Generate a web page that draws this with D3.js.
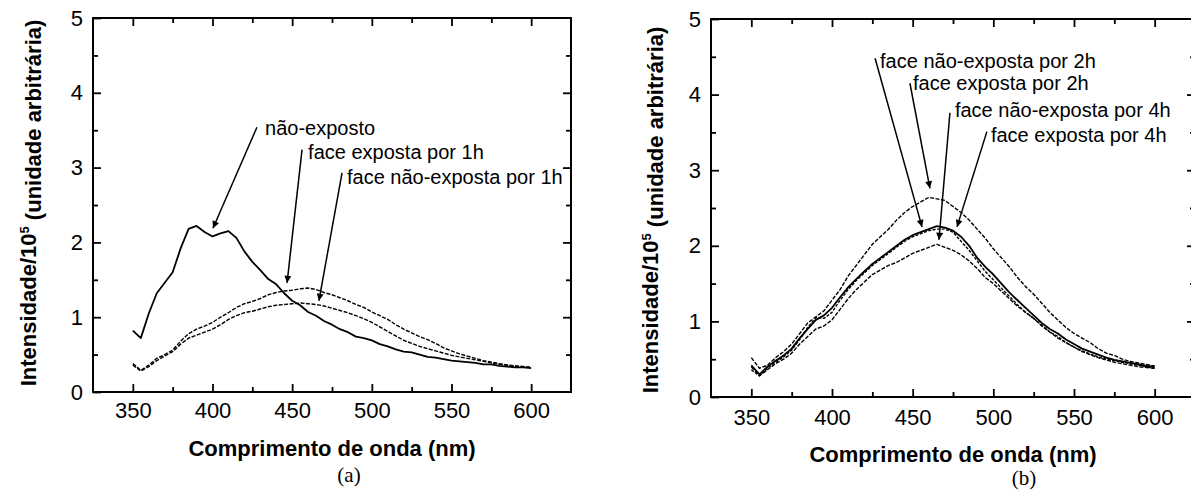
<!DOCTYPE html>
<html>
<head>
<meta charset="utf-8">
<script src="https://cdn.jsdelivr.net/npm/d3@7"></script>
<style>
  body { margin: 0; background: #fff; }
  svg { display: block; }
  text { font-family: "Liberation Sans", Arial, sans-serif; fill: #000; }
</style>
</head>
<body>
<div class="svg"></div>
<script>
// wavelengths (nm), shared by every curve
var wl = [350, 355, 360, 365, 370, 375, 380, 385, 390, 395, 400, 405, 410, 415, 420, 425, 430, 435, 440, 445,
          450, 455, 460, 465, 470, 475, 480, 485, 490, 495, 500, 505, 510, 515, 520, 525, 530, 535, 540, 545,
          550, 555, 560, 565, 570, 575, 580, 585, 590, 595, 600];

// panel (a)
var naoExposto = [0.82, 0.72, 1.05, 1.32, 1.46, 1.60, 1.92, 2.18, 2.22, 2.14, 2.08, 2.12, 2.15, 2.06, 1.88, 1.74, 1.63, 1.51, 1.44, 1.32,
                  1.22, 1.16, 1.07, 1.02, 0.95, 0.90, 0.84, 0.80, 0.74, 0.72, 0.69, 0.64, 0.61, 0.57, 0.54, 0.53, 0.50, 0.47, 0.46, 0.44,
                  0.42, 0.41, 0.40, 0.39, 0.37, 0.37, 0.35, 0.34, 0.33, 0.33, 0.32];
var exposta1h = [0.38, 0.29, 0.36, 0.45, 0.50, 0.56, 0.68, 0.78, 0.84, 0.88, 0.93, 1.00, 1.06, 1.13, 1.18, 1.21, 1.25, 1.30, 1.33, 1.35,
                 1.36, 1.38, 1.39, 1.37, 1.33, 1.30, 1.26, 1.22, 1.17, 1.13, 1.07, 1.02, 0.97, 0.90, 0.84, 0.79, 0.74, 0.70, 0.65, 0.59,
                 0.55, 0.51, 0.48, 0.45, 0.42, 0.40, 0.38, 0.36, 0.35, 0.34, 0.33];
var naoExposta1h = [0.36, 0.28, 0.34, 0.42, 0.48, 0.54, 0.64, 0.72, 0.76, 0.80, 0.84, 0.90, 0.97, 1.02, 1.06, 1.08, 1.11, 1.14, 1.16, 1.17,
                    1.18, 1.19, 1.18, 1.17, 1.15, 1.12, 1.09, 1.06, 1.02, 0.98, 0.93, 0.87, 0.81, 0.75, 0.69, 0.65, 0.61, 0.58, 0.55, 0.52,
                    0.49, 0.47, 0.45, 0.43, 0.41, 0.39, 0.37, 0.36, 0.34, 0.33, 0.33];

// panel (b)
var exposta2h = [0.52, 0.38, 0.42, 0.52, 0.60, 0.70, 0.84, 0.98, 1.06, 1.14, 1.28, 1.42, 1.60, 1.74, 1.88, 2.02, 2.12, 2.22, 2.34, 2.44,
                 2.52, 2.58, 2.64, 2.62, 2.60, 2.52, 2.44, 2.34, 2.22, 2.10, 1.96, 1.84, 1.72, 1.58, 1.46, 1.36, 1.24, 1.12, 1.02, 0.92,
                 0.84, 0.78, 0.72, 0.64, 0.58, 0.55, 0.50, 0.47, 0.45, 0.43, 0.41];
var naoExposta2h = [0.42, 0.30, 0.40, 0.48, 0.55, 0.64, 0.78, 0.90, 1.02, 1.08, 1.18, 1.32, 1.45, 1.56, 1.66, 1.76, 1.84, 1.92, 2.00, 2.08,
                    2.14, 2.18, 2.22, 2.26, 2.24, 2.20, 2.12, 2.00, 1.84, 1.72, 1.62, 1.50, 1.38, 1.28, 1.18, 1.08, 0.98, 0.90, 0.84, 0.76,
                    0.70, 0.64, 0.60, 0.56, 0.52, 0.49, 0.47, 0.45, 0.43, 0.41, 0.40];
var exposta4h = [0.36, 0.28, 0.38, 0.46, 0.53, 0.62, 0.76, 0.92, 1.05, 1.04, 1.12, 1.28, 1.42, 1.54, 1.64, 1.74, 1.82, 1.90, 1.98, 2.06,
                 2.12, 2.16, 2.20, 2.22, 2.22, 2.18, 2.06, 1.94, 1.80, 1.66, 1.55, 1.44, 1.33, 1.22, 1.12, 1.04, 0.95, 0.86, 0.80, 0.72,
                 0.66, 0.61, 0.57, 0.53, 0.50, 0.48, 0.46, 0.44, 0.42, 0.40, 0.38];
var naoExposta4h = [0.40, 0.28, 0.36, 0.44, 0.50, 0.58, 0.70, 0.80, 0.90, 0.94, 1.02, 1.16, 1.30, 1.42, 1.52, 1.62, 1.68, 1.74, 1.78, 1.84,
                    1.90, 1.94, 1.98, 2.02, 1.98, 1.94, 1.88, 1.80, 1.70, 1.58, 1.50, 1.40, 1.30, 1.20, 1.12, 1.04, 0.94, 0.86, 0.78, 0.72,
                    0.66, 0.60, 0.56, 0.52, 0.49, 0.46, 0.44, 0.42, 0.40, 0.39, 0.38];

var xTicks = [350, 400, 450, 500, 550, 600];
var xMinor = [375, 425, 475, 525, 575];
var yTicks = [0, 1, 2, 3, 4, 5];
var yMinor = [0.5, 1.5, 2.5, 3.5, 4.5];

// annotation labels and arrows: [label, textNm, textVal, fromNm, fromVal, toNm, toVal]
var notesA = [
    ['não-exposto', 433, 3.44, 427.9, 3.54, 400.3, 2.19],
    ['face exposta por 1h', 460, 3.11, 456.2, 3.24, 446.8, 1.46],
    ['face não-exposta por 1h', 484.4, 2.78, 481.3, 2.93, 466.8, 1.22]
];
var notesB = [
    ['face não-exposta por 2h', 429.8, 4.35, 426.7, 4.48, 455.8, 2.25],
    ['face exposta por 2h', 450.2, 4.06, 448.3, 4.15, 460.7, 2.76],
    ['face não-exposta por 4h', 476.2, 3.70, 473.1, 3.76, 466.3, 2.08],
    ['face exposta por 4h', 498.5, 3.37, 496, 3.51, 477.5, 2.25]
];

var width = 1191, height = 491;

var svg = d3.select('div.svg')
    .append('svg')
    .attr('width', width)
    .attr('height', height)
    .style('background', '#fff');

svg.append('defs').append('marker')
    .attr('id', 'head')
    .attr('viewBox', '0 0 10 10')
    .attr('refX', 10)
    .attr('refY', 5)
    .attr('markerWidth', 11)
    .attr('markerHeight', 7)
    .attr('markerUnits', 'userSpaceOnUse')
    .attr('orient', 'auto')
    .append('path')
    .attr('d', 'M0,0L10,5L0,10Z')
    .attr('fill', '#000');

function drawPanel(p) {
    var x = d3.scaleLinear().domain([325, 625]).range([p.left, p.right]);
    var y = d3.scaleLinear().domain([0, 5]).range([p.bottom, p.top]);
    var g = svg.append('g');

    // ticks, all pointing inward
    function axis(gen, tr, vals, size, labels, pad) {
        var a = gen.tickValues(vals).tickSize(size).tickPadding(pad || 0)
            .tickFormat(labels ? d3.format('d') : '');
        var ax = g.append('g').attr('transform', tr).call(a)
            .attr('font-size', 22)
            .attr('font-family', '"Liberation Sans", Arial, sans-serif');
        ax.select('.domain').remove();
        ax.selectAll('line').attr('stroke', '#000').attr('stroke-width', 1.8);
        ax.selectAll('text').style('font-size', '22px');
        return ax;
    }
    axis(d3.axisBottom(x), 'translate(0,' + p.bottom + ')', xTicks, -8, true, p.xPad);
    axis(d3.axisBottom(x), 'translate(0,' + p.bottom + ')', xMinor, -5, false);
    axis(d3.axisTop(x), 'translate(0,' + p.top + ')', xTicks, -8, false);
    axis(d3.axisTop(x), 'translate(0,' + p.top + ')', xMinor, -5, false);
    axis(d3.axisLeft(y), 'translate(' + p.left + ',0)', yTicks, -8, true, 10);
    axis(d3.axisLeft(y), 'translate(' + p.left + ',0)', yMinor, -5, false);
    axis(d3.axisRight(y), 'translate(' + p.right + ',0)', yTicks.slice(1, 5), -8, false);
    axis(d3.axisRight(y), 'translate(' + p.right + ',0)', yMinor, -5, false);

    g.append('rect')
        .attr('x', p.left)
        .attr('y', p.top)
        .attr('width', p.right - p.left)
        .attr('height', p.bottom - p.top)
        .attr('fill', 'none')
        .attr('stroke', '#000')
        .attr('stroke-width', 2);

    var line = d3.line()
        .x(function (d, i) { return x(wl[i]); })
        .y(function (d) { return y(d); });

    p.series.forEach(function (s) {
        g.append('path')
            .datum(s.values)
            .attr('d', line)
            .attr('fill', 'none')
            .attr('stroke', '#000')
            .attr('stroke-width', s.w)
            .attr('stroke-dasharray', s.dash || null)
            .attr('stroke-linejoin', 'round');
    });

    p.notes.forEach(function (n) {
        g.append('text')
            .attr('x', x(n[1]))
            .attr('y', y(n[2]))
            .style('font-size', '20px')
            .text(n[0]);
        g.append('line')
            .attr('x1', x(n[3]))
            .attr('y1', y(n[4]))
            .attr('x2', x(n[5]))
            .attr('y2', y(n[6]))
            .attr('stroke', '#000')
            .attr('stroke-width', 1.5)
            .attr('marker-end', 'url(#head)');
    });

    var yt = g.append('text')
        .attr('transform', 'translate(' + p.yTitleX + ',' + p.yTitleY + ') rotate(-90)')
        .attr('text-anchor', 'middle')
        .attr('dy', '0.35em')
        .style('font-size', '22px')
        .style('font-weight', 'bold');
    yt.append('tspan').text('Intensidade/10');
    yt.append('tspan').attr('dy', '-0.55em').style('font-size', '13px').text('5');
    yt.append('tspan').attr('dy', '0.55em').text(' (unidade arbitrária)');

    g.append('text')
        .attr('x', (p.left + p.right) / 2)
        .attr('y', p.xTitleY)
        .attr('text-anchor', 'middle')
        .style('font-size', '22px')
        .style('font-weight', 'bold')
        .text('Comprimento de onda (nm)');

    g.append('text')
        .attr('x', p.capX)
        .attr('y', p.capY)
        .attr('text-anchor', 'middle')
        .style('font-size', '21px')
        .style('font-family', '"Liberation Serif", "Times New Roman", serif')
        .text(p.cap);
}

drawPanel({
    left: 93, right: 571, top: 18, bottom: 392, xPad: 10,
    series: [
        { values: naoExposto, w: 1.8 },
        { values: exposta1h, w: 1.4, dash: '4,1.5' },
        { values: naoExposta1h, w: 1.4, dash: '4,1.5' }
    ],
    notes: notesA,
    yTitleX: 28, yTitleY: 203,
    xTitleY: 456, capX: 349, capY: 482, cap: '(a)'
});

drawPanel({
    left: 711, right: 1195, top: 19, bottom: 397, xPad: 12,
    series: [
        { values: exposta2h, w: 1.4, dash: '4,1.5' },
        { values: naoExposta2h, w: 1.8 },
        { values: exposta4h, w: 1.4, dash: '3,1.5' },
        { values: naoExposta4h, w: 1.4, dash: '4,1.5' }
    ],
    notes: notesB,
    yTitleX: 650, yTitleY: 210,
    xTitleY: 462, capX: 1024, capY: 485, cap: '(b)'
});
</script>
</body>
</html>
